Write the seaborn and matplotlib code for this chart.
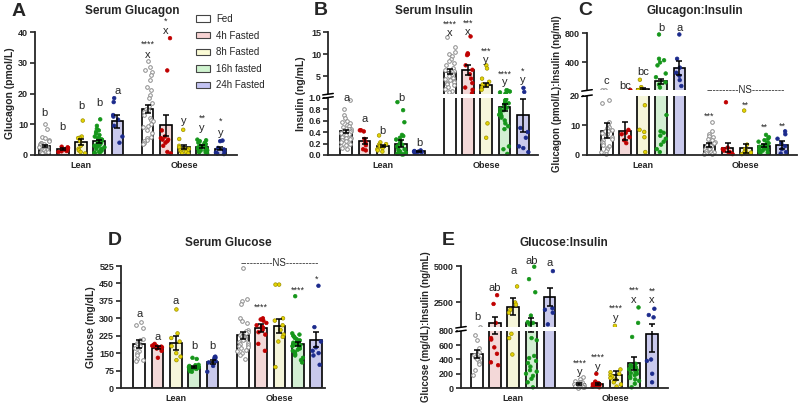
import numpy as np
import pandas as pd
import matplotlib
matplotlib.use('Agg')
import matplotlib.pyplot as plt
import matplotlib.colors as mcolors
from matplotlib.patches import Patch, Rectangle
import seaborn as sns

np.random.seed(3)  # only for the horizontal jitter of the dots

conditions = ['Fed', '4h Fasted', '8h Fasted', '16h fasted', '24h Fasted']
groups = ['Lean', 'Obese']
bar_colors = ['#ffffff', '#f8d3d3', '#fbfbd5', '#cff3cf', '#c3c3f2']
dot_colors = ['#9a9a9a', '#c00000', '#e5d400', '#15961a', '#1b2a8c']

# order of every list: Lean x5 conditions, then Obese x5 conditions
# ---- A: serum glucagon (pmol/L)
glucagon_mean = [3.0, 1.9, 4.3, 4.5, 10.9, 15.0, 9.6, 2.5, 2.7, 2.1]
glucagon_sem = [0.4, 0.3, 1.0, 0.5, 2.2, 1.3, 3.4, 0.7, 0.4, 0.6]
glucagon_pts = [
    [10, 8.5, 6, 5.5, 5, 4.5, 4, 4, 3.5, 3.5, 3.2, 3, 3, 2.8, 2.5, 2.5, 2.5, 2, 2, 2, 1.5, 1.5, 1.5, 1, 1, 1, 0.8, 0.5],
    [2.7, 2.5, 2.3, 1.8, 1.5, 1.3, 1.2, 1.0],
    [11.2, 6, 5.6, 5.5, 4.5, 3, 2, 1.5, 1.0, 0.5],
    [11.6, 9.5, 8.5, 8, 7.5, 7, 6.5, 6, 5.5, 5.5, 5, 5, 4.5, 4.5, 4, 4, 3.5, 3.5, 3, 3, 3, 2.5, 2.5, 2, 2, 1.5, 1.5, 1, 1, 0.8, 0.5],
    [18.5, 17.2, 13, 12.5, 11.5, 9.5, 6, 4],
    [30.5, 28.5, 27.5, 27, 26, 24.5, 22, 21, 19.5, 18.5, 17, 16, 15, 14.5, 14, 13, 12, 11.5, 11, 10, 9.5, 9, 8, 7, 6, 5.5, 5, 4.5, 4, 3.5],
    [38, 27.5, 8, 6, 5.5, 5, 5, 4.5, 4, 3, 1, 0.5],
    [8.2, 5.2, 3, 2.5, 2, 2, 1.5, 1.5, 1, 1, 0.5, 0.5],
    [5, 4.8, 4.5, 4, 4, 3.5, 3.5, 3, 3, 3, 2.5, 2.5, 2.5, 2, 2, 2, 1.5, 1.5, 1.5, 1, 1, 0.8, 0.5],
    [4.7, 4.5, 2.3, 1.8, 1.2, 0.8, 0.5, 0.3],
]
glucagon_marks = [(0, 'b', 13.6), (1, 'b', 9.2), (2, 'b', 16), (3, 'b', 16.8), (4, 'a', 20.9),
                  (5, 'x', 32.5), (5, '****', 36), (6, 'x', 40.3), (6, '*', 43.5), (7, 'y', 10.9),
                  (8, 'y', 8.8), (8, '**', 12), (9, 'y', 7.2), (9, '*', 10.9)]

# ---- B: serum insulin (ng/mL)
insulin_mean = [0.41, 0.25, 0.16, 0.20, 0.065, 6.1, 6.5, 3.1, 0.83, 0.69]
insulin_sem = [0.02, 0.05, 0.02, 0.06, 0.01, 0.5, 1.1, 0.4, 0.06, 0.29]
insulin_pts = [
    [0.95, 0.8, 0.7, 0.65, 0.6, 0.58, 0.55, 0.52, 0.5, 0.48, 0.46, 0.45, 0.44, 0.42, 0.41, 0.4, 0.39,
     0.38, 0.36, 0.35, 0.34, 0.32, 0.3, 0.3, 0.28, 0.26, 0.25, 0.22, 0.2, 0.18, 0.15, 0.12, 0.1],
    [0.43, 0.43, 0.41, 0.28, 0.22, 0.17, 0.1, 0.08],
    [0.34, 0.22, 0.19, 0.18, 0.16, 0.15, 0.12, 0.1, 0.08, 0.06],
    [0.92, 0.78, 0.57, 0.35, 0.33, 0.3, 0.27, 0.24, 0.2, 0.18, 0.15, 0.12, 0.1, 0.08, 0.06, 0.04, 0.03, 0.02, 0.01, 0.01],
    [0.08, 0.07, 0.06, 0.06, 0.05, 0.05, 0.04],
    [13.8, 11.6, 10.5, 10, 9.6, 9, 8.5, 8, 7.6, 7, 6.5, 6.2, 6, 5.8, 5.5, 5, 4.7, 4.5, 4.2, 4, 3.7, 3.5, 3.2, 3, 2.6, 2.2, 1.8, 1.4],
    [14, 10.2, 10, 9.8, 7.5, 6.5, 5.5, 4.5, 3.5, 2.5, 2, 1.2],
    [7.5, 6.8, 4.5, 3.8, 3.2, 3, 2.5, 2.0, 0.55, 0.3],
    [1.9, 1.8, 1.6, 1.4, 1.2, 1.1, 0.97, 0.95, 0.92, 0.9, 0.88, 0.85, 0.82, 0.8, 0.78, 0.75, 0.72, 0.7,
     0.68, 0.65, 0.6, 0.55, 0.5, 0.45, 0.15, 0.1, 0.02],
    [2.4, 1.5, 0.47, 0.4, 0.3, 0.15, 0.12, 0.05],
]
insulin_marks = [(0, 'a', 1.0), (1, 'a', 0.62), (2, 'b', 0.42), (3, 'b', 1.0), (4, 'b', 0.215),
                 (5, 'x', 14.8), (5, '****', 16.8), (6, 'x', 15.0), (6, '***', 17.0),
                 (7, 'y', 8.6), (7, '***', 10.6), (8, 'y', 3.7), (8, '****', 5.6),
                 (9, 'y', 4.1), (9, '*', 6.1)]

# ---- C: glucagon:insulin
ratio_gi_mean = [8.25, 8.1, 38, 143, 325, 3.3, 2.5, 2.3, 3.1, 3.4]
ratio_gi_sem = [2.5, 3.0, 10, 36, 95, 0.6, 1.4, 1.5, 0.5, 1.3]
ratio_gi_pts = [
    [30, 22, 18.6, 17.6, 11, 10, 9.5, 9, 8.5, 8, 8, 7.5, 7, 6.5, 6, 5.5, 5, 4.5, 4, 3.5, 3, 2.5, 2, 1.5, 1, 0.5],
    [25, 8.5, 7.5, 7, 6, 5, 4],
    [165, 65, 40, 30, 25, 16.8, 8.5, 7.8, 6, 1],
    [780, 450, 430, 400, 360, 250, 200, 130, 100, 60, 13.5, 8, 7.5, 6.5, 5.5, 4.5, 3.5, 2, 1],
    [780, 450, 330, 260, 220, 160, 80],
    [11, 8, 7, 6.5, 6, 5.5, 5, 4.5, 4, 4, 3.5, 3, 3, 2.5, 2.5, 2, 2, 1.5, 1.5, 1, 1, 0.8, 0.5, 0.3],
    [17.8, 2.5, 2, 1.5, 1, 0.8, 0.5, 0.3],
    [15, 3.5, 2, 1.5, 1, 0.8, 0.5, 0.3],
    [6.8, 6, 5.5, 5, 4.5, 4.2, 4, 3.5, 3.2, 3, 3, 2.8, 2.5, 2.2, 2, 1.8, 1.5, 1.2, 1, 0.8, 0.5],
    [8, 7, 5.5, 4, 3, 2, 1, 0.5],
]
ratio_gi_marks = [(0, 'c', 143), (1, 'bc', 84), (2, 'bc', 265), (3, 'b', 870), (4, 'a', 870),
                  (5, '***', 13.2), (7, '**', 16.7), (8, '**', 9.3), (9, '**', 9.6)]

# ---- D: serum glucose (mg/dL)
glucose_mean = [189, 174, 193, 89, 112, 226, 257, 267, 189, 207]
glucose_sem = [19, 6, 30, 5, 9, 14, 17, 32, 10, 32]
glucose_pts = [
    [285, 270, 260, 210, 205, 195, 190, 180, 170, 160, 150, 140, 125, 120, 115],
    [190, 185, 182, 180, 178, 175, 172, 170, 160, 130],
    [338, 235, 215, 200, 180, 150, 135, 120],
    [130, 125, 100, 98, 95, 92, 90, 90, 88, 85, 85, 82, 80, 80, 78, 75, 72, 70],
    [135, 132, 130, 125, 115, 110, 95, 70],
    [515, 385, 375, 360, 300, 290, 280, 250, 245, 240, 235, 230, 225, 220, 215, 210, 205, 200, 195,
     190, 185, 180, 175, 170, 165, 160, 150, 140, 125],
    [300, 295, 290, 280, 270, 265, 260, 250, 240, 230, 190, 160],
    [445, 445, 300, 290, 270, 250, 230, 220, 200, 90],
    [395, 235, 230, 225, 220, 215, 210, 205, 200, 200, 195, 190, 185, 185, 180, 175, 170, 165, 160,
     155, 150, 145, 140, 130, 120, 110],
    [440, 262, 200, 175, 160, 150, 140, 100],
]
glucose_marks = [(0, 'a', 318), (1, 'a', 218), (2, 'a', 376), (3, 'b', 179), (4, 'b', 179),
                 (6, '****', 347), (8, '****', 421), (9, '*', 467)]

# ---- E: glucose:insulin
ratio_gl_mean = [479, 1114, 2205, 1114, 2886, 56, 56, 177, 349, 753]
ratio_gl_sem = [55, 360, 590, 330, 640, 15, 8, 60, 90, 250]
ratio_gl_pts = [
    [850, 745, 680, 560, 500, 480, 460, 440, 420, 400, 370, 330, 250, 180],
    [3000, 2400, 1100, 700, 680, 570, 480, 360, 320],
    [3600, 2500, 2350, 2000, 1800, 760, 700, 470],
    [4950, 4100, 3200, 1600, 1150, 1100, 1050, 1000, 700, 670, 450, 420, 380, 350, 300, 250, 230, 200, 170, 130, 80, 10],
    [4650, 2100, 2000, 1800, 1000],
    [150, 120, 100, 90, 80, 70, 60, 55, 50, 45, 40, 35, 30, 25, 20, 15, 10, 5],
    [200, 90, 80, 70, 60, 55, 50, 45, 40, 30, 20, 10],
    [900, 260, 220, 200, 180, 160, 140, 120, 100, 80, 50, 20],
    [2160, 1100, 716, 340, 320, 300, 290, 280, 270, 260, 250, 240, 230, 210, 200, 180, 160, 140, 120, 100, 60, 10],
    [2070, 1640, 1480, 400, 380, 200, 80],
]
ratio_gl_marks = [(0, 'b', 1477), (1, 'ab', 3523), (2, 'a', 4636), (3, 'ab', 5318), (4, 'a', 5200),
                  (5, 'y', 230), (5, '****', 345), (6, 'y', 300), (6, '****', 425),
                  (7, 'y', 1420), (7, '****', 2080), (8, 'x', 2680), (8, '***', 3350),
                  (9, 'x', 2660), (9, '**', 3280)]

step = 0.177
bar_x = [g + (c - 2) * step for g in range(2) for c in range(5)]
bar_pal = dict(zip(conditions, bar_colors))
dot_pal = dict(zip(conditions, dot_colors))


def broken(lo, gap, k):
    def fwd(v):
        v = np.asarray(v, dtype=float)
        return np.where(v <= lo, v, lo + gap + (v - lo) * k)

    def inv(t):
        t = np.asarray(t, dtype=float)
        return np.where(t <= lo, t, np.where(t < lo + gap, lo, lo + (t - lo - gap) / k))
    return fwd, inv


def draw(ax, mean, sem, pts, marks, ymax, ticks, ticklabels, ylabel, xlim, brk=None, ylsize=7.5):
    bars = pd.DataFrame({'x': bar_x, 'y': mean, 'cond': conditions * 2})
    sns.barplot(data=bars, x='x', y='y', hue='cond', hue_order=conditions, palette=bar_pal,
                native_scale=True, orient='x', width=0.64, errorbar=None, edgecolor='black',
                linewidth=1.2, legend=False, ax=ax)
    rows = [(bar_x[i], v, conditions[i % 5]) for i, vals in enumerate(pts) for v in vals]
    dots = pd.DataFrame(rows, columns=['x', 'y', 'cond'])
    sns.stripplot(data=dots, x='x', y='y', hue='cond', hue_order=conditions, palette=dot_pal,
                  native_scale=True, orient='x', jitter=0.3, size=2.6, linewidth=0.5,
                  legend=False, ax=ax, zorder=2, clip_on=False)
    for coll in ax.collections:
        fc = coll.get_facecolor()
        if len(fc) == 0:
            continue
        h = mcolors.to_hex(fc[0])
        if h == mcolors.to_hex(dot_colors[0]):
            coll.set_facecolor('white')
            coll.set_edgecolor('#8c8c8c')
            coll.set_linewidth(0.7)
        elif h == mcolors.to_hex(dot_colors[2]):
            coll.set_edgecolor('#9c8f00')
        else:
            coll.set_edgecolor(fc[0])
    ax.errorbar(bar_x, mean, yerr=sem, fmt='none', ecolor='black', elinewidth=1.1,
                capsize=2.5, capthick=1.1, zorder=4)

    if brk is not None:
        fwd, inv = broken(*brk)
        ax.set_yscale('function', functions=(fwd, inv))
    ax.set_ylim(0, ymax)
    ax.set_xlim(*xlim)
    ax.set_yticks(ticks)
    ax.set_yticklabels(ticklabels)
    ax.set_xticks([0, 1])
    ax.set_xticklabels(groups)
    ax.set_xlabel('')
    ax.set_ylabel(ylabel, fontsize=ylsize, fontweight='bold', labelpad=2)
    ax.tick_params(axis='y', length=3.5, width=1.2, labelsize=6.5, pad=1.5)
    ax.tick_params(axis='x', length=0, labelsize=6.5, pad=4)
    for lab in ax.get_yticklabels() + ax.get_xticklabels():
        lab.set_fontweight('bold')
    sns.despine(ax=ax)
    for s in ['left', 'bottom']:
        ax.spines[s].set_linewidth(1.3)

    if brk is not None:
        lo, gap, k = brk
        tmax = float(fwd(ymax))
        f_lo = lo / tmax
        f_hi = (lo + gap) / tmax
        ax.add_patch(Rectangle((-0.015, f_lo), 1.02, f_hi - f_lo, transform=ax.transAxes,
                               facecolor='white', edgecolor='none', zorder=5, clip_on=False))
        for f in (f_lo, f_hi):
            ax.plot([-0.025, 0.025], [f - 0.006, f + 0.006], transform=ax.transAxes,
                    color='black', lw=1.1, clip_on=False, zorder=6)

    for i, txt, y in marks:
        star = txt.startswith('*')
        ax.text(bar_x[i], y, txt, ha='center', va='center', fontsize=6.5 if star else 8,
                zorder=7, clip_on=False)


sns.set_style('ticks')
plt.rcParams['font.family'] = ['Liberation Sans', 'DejaVu Sans']

fig = plt.figure(figsize=(8, 4.04), dpi=100)


def px_axes(left, top, right, bottom):
    return fig.add_axes([left / 800, 1 - bottom / 404, (right - left) / 800, (bottom - top) / 404])


axA = px_axes(35, 32, 237, 155)
axB = px_axes(328, 32, 538, 155)
axC = px_axes(587, 33, 797, 155)
axD = px_axes(121, 266, 325, 388)
axE = px_axes(461, 266, 668, 388)

draw(axA, glucagon_mean, glucagon_sem, glucagon_pts, glucagon_marks, 40,
     [0, 10, 20, 30, 40], ['0', '10', '20', '30', '40'], 'Glucagon (pmol/L)', (-0.448, 1.516))
draw(axB, insulin_mean, insulin_sem, insulin_pts, insulin_marks, 15,
     [0, 0.2, 0.4, 0.6, 0.8, 1.0, 5, 10, 15], ['0.0', '0.2', '0.4', '0.6', '0.8', '1.0', '5', '10', '15'],
     'Insulin (ng/mL)', (-0.53, 1.5), brk=(1.0, 0.058, 0.0773))
draw(axC, ratio_gi_mean, ratio_gi_sem, ratio_gi_pts, ratio_gi_marks, 800,
     [0, 10, 20, 400, 800], ['0', '10', '20', '400', '800'],
     'Glucagon (pmol/L):Insulin (ng/ml)', (-0.547, 1.5), brk=(20, 1.8, 0.02485), ylsize=7)
draw(axD, glucose_mean, glucose_sem, glucose_pts, glucose_marks, 525,
     list(range(0, 526, 75)), [str(v) for v in range(0, 526, 75)], 'Glucose (mg/dL)', (-0.53, 1.44))
draw(axE, ratio_gl_mean, ratio_gl_sem, ratio_gl_pts, ratio_gl_marks, 5000,
     [0, 200, 400, 600, 800, 2500, 5000], ['0', '200', '400', '600', '800', '2500', '5000'],
     'Glucose (mg/dL):Insulin (ng/mL)', (-0.51, 1.51), brk=(800, 51.6, 0.2046), ylsize=7)

axC.text(1, 30, '----------NS----------', ha='center', va='center', fontsize=7, zorder=7)
axD.text(1, 540, '----------NS----------', ha='center', va='center', fontsize=7, zorder=7,
         clip_on=False)

titles = [('Serum Glucagon', 132, 11), ('Serum Insulin', 434, 11), ('Glucagon:Insulin', 695, 11),
          ('Serum Glucose', 228, 243), ('Glucose:Insulin', 564, 243)]
for txt, x, y in titles:
    fig.text(x / 800, 1 - y / 404, txt, ha='center', va='center', fontsize=8.5, fontweight='bold')

letters = [('A', 12, 3), ('B', 314, 2), ('C', 578, 2), ('D', 108, 232), ('E', 442, 232)]
for txt, x, y in letters:
    fig.text(x / 800, 1 - y / 404, txt, ha='left', va='top', fontsize=14, fontweight='bold')

handles = [Patch(facecolor=c, edgecolor='#444444', linewidth=0.8) for c in bar_colors]
fig.legend(handles, conditions, loc='upper left', bbox_to_anchor=(196 / 800, 1 - 14 / 404),
           frameon=False, fontsize=7, handlelength=1.45, handleheight=0.65,
           labelspacing=0.68, handletextpad=0.6, borderpad=0, borderaxespad=0)

fig.savefig('out.png', dpi=100)
